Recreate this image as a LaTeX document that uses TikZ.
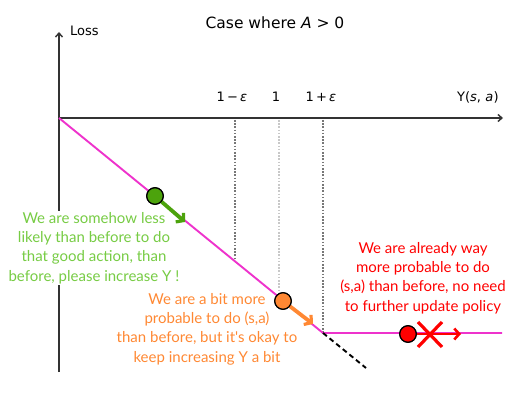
\documentclass[tikz,border=0pt]{standalone}
\usepackage{fontspec}
\usetikzlibrary{arrows.meta}
\setmainfont{DejaVu Sans}
\newfontfamily\notefont{Lato}
\definecolor{axisgray}{HTML}{333333}
\definecolor{curvemag}{HTML}{EE33CC}
\definecolor{dotgreen}{HTML}{4CA30C}
\definecolor{txtgreen}{HTML}{77CC44}
\definecolor{dotorange}{HTML}{FF8833}
\definecolor{dotred}{HTML}{FF0000}
\definecolor{guidedark}{HTML}{777777}
\definecolor{guidelight}{HTML}{C8C8C8}
\tikzset{
  axisline/.style={draw=axisgray, line width=1.7pt, -{Straight Barb[length=4pt,width=7pt,line width=1.4pt]}},
  axislabel/.style={font=\fontsize{13}{15}\selectfont, inner sep=0pt},
  guide/.style={line width=1.8pt, dash pattern=on 1.6pt off 1.6pt},
  curve/.style={draw=curvemag, line width=1.9pt},
  note/.style={font=\notefont\fontsize{15}{19.3}\selectfont, align=center, inner sep=1pt},
  marker/.style={circle, draw=black, line width=1.2pt, minimum size=16.5pt, inner sep=0pt},
  push/.style={line width=3.8pt, -{Straight Barb[length=5pt,width=12pt,line width=3.2pt]}},
}
\begin{document}
\begin{tikzpicture}[x=1pt,y=-1pt]
\useasboundingbox (0,0) rectangle (530,393);
% key points
\coordinate (O) at (59,118);
\coordinate (ytop) at (59,32);
\coordinate (ybot) at (59,372);
\coordinate (xend) at (503,118);
\coordinate (K) at (323,333);
\coordinate (clipend) at (502,333);
\coordinate (dashend) at (366,368);
\coordinate (tA) at (235,120);
\coordinate (tB) at (279,120);
\coordinate (tC) at (323,120);
\coordinate (cA) at (235,261);
\coordinate (cB) at (279,297);

% axes
\draw[axisline] (ybot) -- (ytop);
\draw[axisline] (O) -- (xend);

% axis and tick labels
\node[axislabel, font=\fontsize{15.5}{17}\selectfont] (title) at (275,23) {Case where \textit{A} > 0};
\node[axislabel, anchor=west] (lossl) at (70,31) {Loss};
\node[axislabel] (t1) at (232,97) {1\,−\,\textit{ε}};
\node[axislabel] (t2) at (276,97) {1};
\node[axislabel] (t3) at (321,97) {1\,+\,\textit{ε}};
\node[axislabel] (yl) at (478,97) {Y(\textit{s}, \textit{a}\kern0.5pt)};

% guides down to the curve
\draw[guide, guidedark] (tA) -- (cA);
\draw[guide, guidelight] (tB) -- (cB);
\draw[guide, guidedark] (tC) -- (K);

% green note sits over the vertical axis
\node[note, text=txtgreen, fill=white] (gnote) at (94,248)
  {We are somehow less\\likely than before to do\\that good action, than\\before, please increase Y !};

% loss curve, clipped branch and unclipped continuation
\draw[curve] (O) -- (K) -- (clipend);
\draw[black, line width=1.9pt, dash pattern=on 5pt off 3.5pt] (K) -- (dashend);

% green marker
\node[marker, fill=dotgreen] (g) at (155,196) {};
\coordinate (gtip) at (185,222);
\draw[push, dotgreen] (g.center) -- (gtip);
\node[marker, fill=dotgreen] at (g) {};

% orange marker
\node[marker, fill=dotorange] (o) at (283,301) {};
\coordinate (otip) at (313,324);
\draw[push, dotorange] (o.center) -- (otip);
\node[marker, fill=dotorange] at (o) {};
\node[note, text=dotorange] (onote) at (207,329)
  {We are a bit more\\probable to do (s,a)\\than before, but it's okay to\\keep increasing Y a bit};

% red marker, blocked push
\node[marker, fill=dotred] (r) at (408,334) {};
\coordinate (rtip) at (461,334);
\draw[dotred, line width=2.8pt, -{Straight Barb[length=5pt,width=11pt,line width=2.6pt]}] (r.east) -- (rtip);
\coordinate (xa) at (418,322);
\coordinate (xb) at (442,347);
\coordinate (xc) at (418,347);
\coordinate (xd) at (442,322);
\draw[dotred, line width=3.2pt] (xa) -- (xb) (xc) -- (xd);
\node[marker, fill=dotred] at (r) {};
\node[note, text=dotred] (rnote) at (423,278)
  {We are already way\\more probable to do\\(s,a) than before, no need\\to further update policy};
\end{tikzpicture}
\end{document}
